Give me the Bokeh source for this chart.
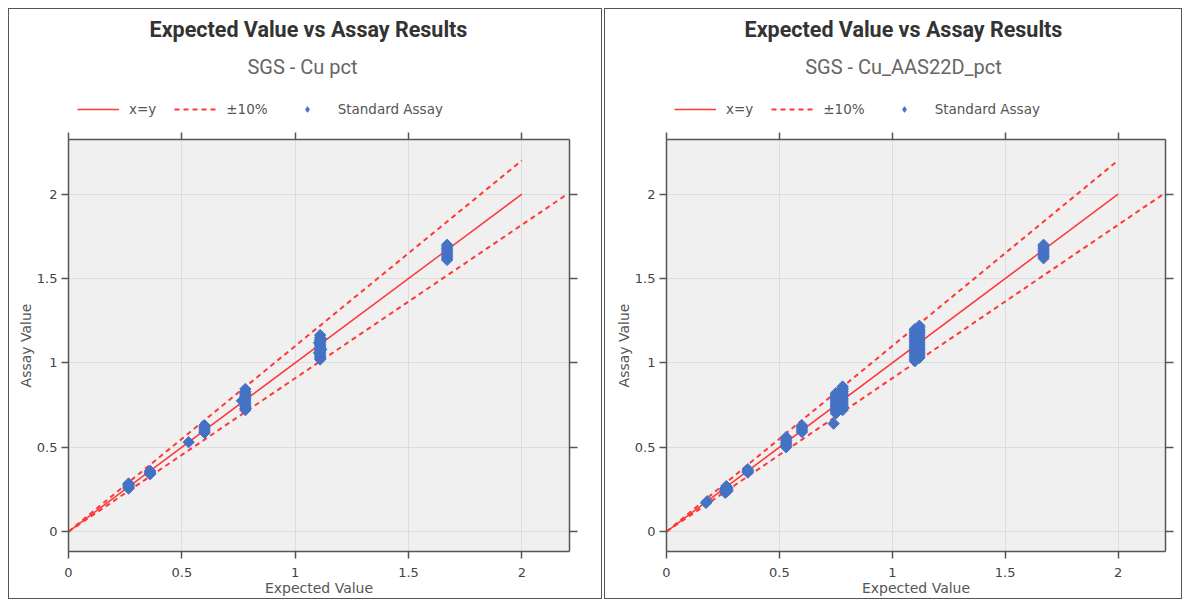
from bokeh.plotting import figure
from bokeh.models import Legend, LegendItem, LinearAxis, Range1d, FixedTicker, Label
from bokeh.layouts import row, column
from bokeh.embed import file_html
from bokeh.resources import INLINE

TITLE = "Expected Value vs Assay Results"
SUBTITLES = ["SGS - Cu pct", "SGS - Cu_AAS22D_pct"]
X_LABEL = "Expected Value"
Y_LABEL = "Assay Value"
TICKS = [0, 0.5, 1, 1.5, 2]
TICK_LABELS = ["0", "0.5", "1", "1.5", "2"]
LEGEND_LABELS = ["x=y", "\u00b110%", "Standard Assay"]

# reference lines
XY_X = [0, 2]
XY_Y = [0, 2]
UP_X = [0, 2]
UP_Y = [0, 2.2]
LO_X = [0, 2.2]
LO_Y = [0, 2]

# left panel: SGS - Cu pct
CU_EXPECTED = (
    [0.265] * 7
    + [0.36] * 5
    + [0.53]
    + [0.60] * 6
    + [0.78] * 13 + [0.765]
    + [1.11] * 15 + [1.105, 1.115, 1.105, 1.115]
    + [1.67] * 10
)
CU_ASSAY = (
    [0.255, 0.26, 0.265, 0.27, 0.275, 0.28, 0.285]
    + [0.34, 0.345, 0.35, 0.355, 0.36]
    + [0.53]
    + [0.585, 0.59, 0.60, 0.61, 0.62, 0.63]
    + [0.72, 0.73, 0.74, 0.75, 0.76, 0.77, 0.78, 0.79, 0.80, 0.81, 0.82, 0.83, 0.845] + [0.775]
    + [1.02, 1.03, 1.04, 1.05, 1.06, 1.07, 1.08, 1.09, 1.10, 1.11, 1.12, 1.13, 1.14, 1.15, 1.165]
    + [1.06, 1.08, 1.12, 1.14]
    + [1.61, 1.62, 1.63, 1.64, 1.65, 1.66, 1.67, 1.68, 1.69, 1.70]
)

# right panel: SGS - Cu_AAS22D_pct
AAS_EXPECTED = (
    [0.18, 0.175]
    + [0.26, 0.27, 0.26, 0.27, 0.26, 0.27, 0.265]
    + [0.36] * 4
    + [0.53] * 7
    + [0.60] * 5
    + [0.75] * 13
    + [0.78] * 15
    + [0.74]
    + [1.10] * 20
    + [1.12] * 20
    + [1.67] * 9
)
AAS_ASSAY = (
    [0.18, 0.17]
    + [0.23, 0.24, 0.245, 0.25, 0.255, 0.26, 0.27]
    + [0.35, 0.355, 0.36, 0.37]
    + [0.50, 0.51, 0.52, 0.53, 0.54, 0.55, 0.56]
    + [0.59, 0.60, 0.61, 0.62, 0.63]
    + [0.70, 0.71, 0.72, 0.73, 0.74, 0.75, 0.76, 0.77, 0.78, 0.79, 0.80, 0.81, 0.82]
    + [0.72, 0.73, 0.74, 0.75, 0.76, 0.77, 0.78, 0.79, 0.80, 0.81, 0.82, 0.83, 0.84, 0.85, 0.86]
    + [0.64]
    + [1.01, 1.02, 1.03, 1.04, 1.05, 1.06, 1.07, 1.08, 1.09, 1.10,
       1.11, 1.12, 1.13, 1.14, 1.15, 1.16, 1.17, 1.18, 1.19, 1.20]
    + [1.03, 1.04, 1.05, 1.06, 1.07, 1.08, 1.09, 1.10, 1.11, 1.12,
       1.13, 1.14, 1.15, 1.16, 1.17, 1.18, 1.19, 1.20, 1.21, 1.22]
    + [1.62, 1.63, 1.64, 1.65, 1.66, 1.67, 1.68, 1.69, 1.70]
)

RED = "#ff3838"
BLUE = "#4472c4"
FONT = "DejaVu Sans"
TITLE_FONT = "Roboto"
BORDER = "1px solid #555555"
HEADER_H = 124
H0 = -1000  # header canvas origin, kept away from the data


def style_axis(ax, labels=True):
    ax.ticker = FixedTicker(ticks=TICKS)
    ax.axis_line_color = "#555555"
    ax.axis_line_width = 1.5
    ax.major_tick_line_color = "#555555"
    ax.major_tick_line_width = 1.5
    ax.major_tick_out = 7
    ax.major_tick_in = 0
    ax.minor_tick_line_color = None
    ax.major_label_text_font = FONT
    ax.major_label_text_color = "#444444"
    if labels:
        ax.major_label_overrides = {t: l for t, l in zip(TICKS, TICK_LABELS)}
        ax.major_label_text_font_size = "13px"
        ax.major_label_standoff = 4
    else:
        ax.major_label_overrides = {t: "" for t in TICKS}
        ax.major_label_text_font_size = "1px"
        ax.major_label_standoff = 0
    ax.axis_label_text_font = FONT
    ax.axis_label_text_font_size = "14px"
    ax.axis_label_text_font_style = "normal"
    ax.axis_label_text_color = "#555555"


def make_header(subtitle, width, frame_w, title_x, sub_x, leg_x, xs, ys):
    # this figure's frame is aligned by the column with the chart's frame below it
    h = figure(
        width=width, height=HEADER_H,
        x_range=Range1d(H0, H0 + frame_w), y_range=Range1d(H0, H0 + HEADER_H),
        x_axis_location=None, y_axis_location=None,
        output_backend="svg", toolbar_location=None, title=None,
        min_border=0, outline_line_color=None,
        background_fill_color="white", border_fill_color="white",
    )
    h.grid.visible = False
    h.styles = {"border": BORDER, "border-bottom": "none"}
    h.add_layout(Label(x=H0 + title_x, y=H0 + HEADER_H - 20, text=TITLE, text_align="center",
                       text_baseline="middle", text_font=TITLE_FONT,
                       text_font_size="21.5px", text_font_style="bold",
                       text_color="#333333"))
    h.add_layout(Label(x=H0 + sub_x, y=H0 + HEADER_H - 57, text=subtitle, text_align="center",
                       text_baseline="middle", text_font=TITLE_FONT,
                       text_font_size="20px", text_color="#666666"))
    # legend renderers reuse the chart data, which lies outside this header's ranges
    r_xy = h.line(XY_X, XY_Y, line_color=RED, line_width=1.5)
    r_pm = h.line(UP_X, UP_Y, line_color=RED, line_width=2, line_dash="5 4")
    r_pt = h.scatter(xs, ys, marker="diamond", size=8,
                     fill_color=BLUE, line_color=BLUE)
    legend = Legend(
        items=[
            LegendItem(label=LEGEND_LABELS[0], renderers=[r_xy]),
            LegendItem(label=LEGEND_LABELS[1], renderers=[r_pm]),
            LegendItem(label=LEGEND_LABELS[2], renderers=[r_pt]),
        ],
        orientation="horizontal", location=(leg_x, 16),
        border_line_color=None, background_fill_alpha=0,
        label_text_font=FONT, label_text_font_size="13.5px", label_text_color="#555555",
        glyph_width=42, glyph_height=14, label_height=14, label_standoff=10, spacing=18,
        padding=0, margin=0,
    )
    h.add_layout(legend, "center")
    return h


def make_main(xs, ys, width, mb_left, mb_right):
    p = figure(
        width=width, height=591 - HEADER_H,
        x_range=Range1d(0, 2.21), y_range=Range1d(-0.118, 2.324),
        output_backend="svg", toolbar_location=None, title=None,
        min_border_left=mb_left, min_border_right=mb_right,
        min_border_bottom=48, min_border_top=0,
        background_fill_color="#f0f0f0", border_fill_color="white",
        outline_line_color=None,
    )
    p.styles = {"border": BORDER, "border-top": "none"}

    p.grid.grid_line_color = "#dddddd"
    p.grid.grid_line_width = 1
    p.xgrid.ticker = FixedTicker(ticks=TICKS)
    p.ygrid.ticker = FixedTicker(ticks=TICKS)

    style_axis(p.xaxis[0])
    p.xaxis[0].axis_label = X_LABEL
    p.xaxis[0].axis_label_standoff = 0
    p.xaxis[0].major_label_standoff = 9
    style_axis(p.yaxis[0])
    p.yaxis[0].axis_label = Y_LABEL
    p.yaxis[0].axis_label_standoff = 0

    top = LinearAxis()
    style_axis(top, labels=False)
    p.add_layout(top, "above")
    right = LinearAxis()
    style_axis(right, labels=False)
    right.major_tick_out = 8
    p.add_layout(right, "right")

    p.line(XY_X, XY_Y, line_color=RED, line_width=1.5)
    p.line(UP_X, UP_Y, line_color=RED, line_width=2, line_dash="5 4")
    p.line(LO_X, LO_Y, line_color=RED, line_width=2, line_dash="5 4")
    p.scatter(xs, ys, marker="square", angle=0.785, size=8,
              fill_color=BLUE, line_color=BLUE, line_width=1)
    return p


def make_panel(subtitle, xs, ys, width, mb_left, mb_right, title_x, sub_x, leg_x):
    frame_w = width - mb_left - mb_right
    return column(make_header(subtitle, width, frame_w, title_x - mb_left, sub_x - mb_left,
                              leg_x - mb_left, xs, ys),
                  make_main(xs, ys, width, mb_left, mb_right), spacing=0)


panel1 = make_panel(SUBTITLES[0], CU_EXPECTED, CU_ASSAY, 594, 59, 34, 299, 293, 68)
panel2 = make_panel(SUBTITLES[1], AAS_EXPECTED, AAS_ASSAY, 578, 61, 18, 298, 298, 69)
layout = row(panel1, panel2, spacing=2, margin=(8, 0, 0, 8))

open("out.html", "w").write(file_html(layout, INLINE))
